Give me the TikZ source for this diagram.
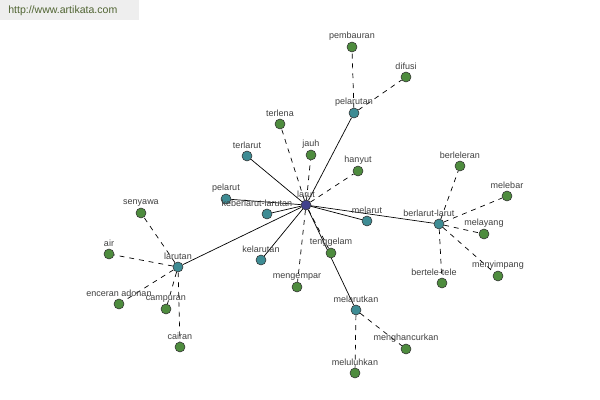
\documentclass[tikz,border=0pt]{standalone}
\usepackage{fontspec}
\setmainfont{Liberation Sans}
\usepackage{tikz}
\usepackage{xcolor}
\usetikzlibrary{positioning}
\usetikzlibrary{backgrounds}

\definecolor{synGreen}{RGB}{78,140,62}
\definecolor{relTeal}{RGB}{62,140,148}
\definecolor{rootBlue}{RGB}{64,64,140}
\definecolor{siteText}{RGB}{80,100,50}

\begin{document}
\begin{tikzpicture}[
    x=0.025cm, y=-0.025cm,
    %% ── Node styles ─────────────────────────────────────────────
    word/.style  ={circle, draw=black!80, line width=0.4pt, inner sep=0pt,
                                 minimum size=0.25cm},
    root/.style  ={word, fill=rootBlue},
    rel/.style   ={word, fill=relTeal},
    syn/.style   ={word, fill=synGreen},
    lbl/.style   ={font=\fontsize{6.4}{7}\selectfont, text=black!75,
                                 inner sep=0.5pt, label distance=0.5pt},
    wmark/.style ={anchor=north west, fill=gray!13, text=siteText,
                                 font=\fontsize{7.5}{9}\selectfont,
                                 minimum width=3.475cm, minimum height=0.5cm,
                                 text width=3.075cm, inner xsep=0.2cm, align=left},
    solid link/.style={line width=0.5pt, black},
    dash link/.style ={line width=0.5pt, black, dash pattern=on 3.5pt off 3.5pt}
]

    \useasboundingbox (0,0) rectangle (600,400);

    \node[wmark] (site) at (0,0) {http://www.artikata.com};

    %% ── Nodes ──────────────────────────────────────────────────
    \node[root, label={[lbl]above:larut}]      (larut)      at (306,205) {};

    \node[rel, label={[lbl]above:pelarutan}]   (pelarutan)  at (354,113) {};
    \node[syn, label={[lbl]above:pembauran}]   (pembauran)  at (352, 47) {};
    \node[syn, label={[lbl]above:difusi}]      (difusi)     at (406, 77) {};

    \node[syn, label={[lbl]above:terlena}]     (terlena)    at (280,124) {};
    \node[syn, label={[lbl]above:jauh}]        (jauh)       at (311,155) {};
    \node[syn, label={[lbl]above:hanyut}]      (hanyut)     at (358,171) {};
    \node[rel, label={[lbl]above:terlarut}]    (terlarut)   at (247,156) {};
    \node[rel, label={[lbl]above:pelarut}]     (pelarut)    at (226,199) {};
    \node[rel, label={[lbl, xshift=-0.25cm]above:keberlarut-larutan}]
                                               (keberlarut) at (267,214) {};
    \node[rel, label={[lbl]above:kelarutan}]   (kelarutan)  at (261,260) {};
    \node[syn, label={[lbl]above:mengempar}]   (mengempar)  at (297,287) {};
    \node[syn, label={[lbl]above:tenggelam}]   (tenggelam)  at (331,253) {};
    \node[rel, label={[lbl]above:melarut}]     (melarut)    at (367,221) {};

    \node[rel, label={[lbl]above:larutan}]     (larutan)    at (178,267) {};
    \node[syn, label={[lbl]above:senyawa}]     (senyawa)    at (141,213) {};
    \node[syn, label={[lbl]above:air}]         (air)        at (109,254) {};
    \node[syn, label={[lbl]above:enceran adonan}] (enceran) at (119,304) {};
    \node[syn, label={[lbl]above:campuran}]    (campuran)   at (166,309) {};
    \node[syn, label={[lbl]above:cairan}]      (cairan)     at (180,347) {};

    \node[rel, label={[lbl, xshift=-0.25cm]above:berlarut-larut}]
                                               (berlarut)   at (439,224) {};
    \node[syn, label={[lbl]above:berleleran}]  (berleleran) at (460,166) {};
    \node[syn, label={[lbl]above:melebar}]     (melebar)    at (507,196) {};
    \node[syn, label={[lbl]above:melayang}]    (melayang)   at (484,234) {};
    \node[syn, label={[lbl]above:menyimpang}]  (menyimpang) at (498,276) {};
    \node[syn, label={[lbl, xshift=-0.2cm]above:bertele-tele}]
                                               (bertele)    at (442,283) {};

    \node[rel, label={[lbl]above:melarutkan}]  (melarutkan) at (356,310) {};
    \node[syn, label={[lbl]above:menghancurkan}] (menghancurkan) at (406,349) {};
    \node[syn, label={[lbl]above:meluluhkan}]  (meluluhkan) at (355,373) {};

    %% ── Links ──────────────────────────────────────────────────
    \begin{scope}[on background layer]
        \fill[white] (0,0) rectangle (600,400);
        \foreach \n in {pelarutan,terlarut,pelarut,keberlarut,kelarutan,
                        larutan,melarut,berlarut,melarutkan}
            \draw[solid link] (larut) -- (\n);
        \foreach \n in {terlena,jauh,hanyut,mengempar,tenggelam}
            \draw[dash link] (larut) -- (\n);
        \foreach \n in {pembauran,difusi}
            \draw[dash link] (pelarutan) -- (\n);
        \foreach \n in {senyawa,air,enceran,campuran,cairan}
            \draw[dash link] (larutan) -- (\n);
        \foreach \n in {berleleran,melebar,melayang,menyimpang,bertele}
            \draw[dash link] (berlarut) -- (\n);
        \foreach \n in {menghancurkan,meluluhkan}
            \draw[dash link] (melarutkan) -- (\n);
    \end{scope}

\end{tikzpicture}
\end{document}
